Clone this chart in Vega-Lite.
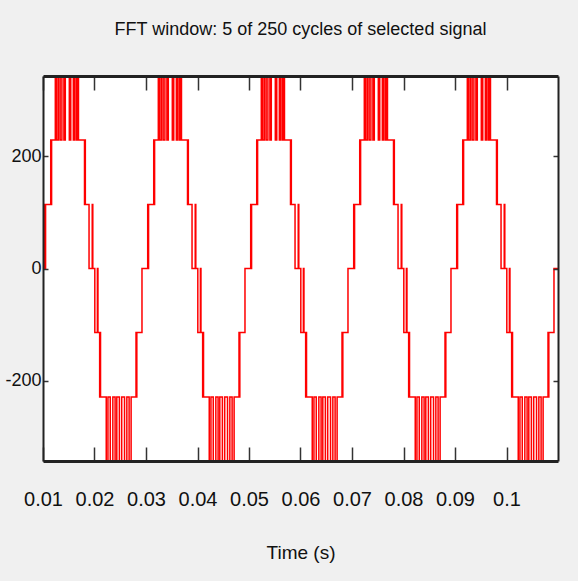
{
"$schema": "https://vega.github.io/schema/vega-lite/v6.json",
"width": 515, "height": 385,
"autosize": {"type": "none"},
"padding": {"left": 43, "top": 76, "right": 20, "bottom": 120},
"background": "#f0f0f0",
"config": {"view": {"fill": "white", "stroke": null}, "font": "Liberation Sans"},
"title": {"text": "FFT window: 5 of 250 cycles of selected signal", "fontSize": 18, "fontWeight": "normal", "color": "#111", "offset": 36, "anchor": "middle", "font": "Liberation Sans"},
"data": {"values": [
{"t":0.01,"v":0},
{"t":0.01033,"v":114},{"t":0.01044,"v":0},{"t":0.0105,"v":114},{"t":0.0115,"v":229},{"t":0.01161,"v":114},{"t":0.01167,"v":229},
{"t":0.01239,"v":343},{"t":0.01267,"v":229},{"t":0.013,"v":343},{"t":0.01333,"v":229},{"t":0.01367,"v":343},{"t":0.01406,"v":229},{"t":0.01433,"v":343},{"t":0.01511,"v":229},{"t":0.01539,"v":343},{"t":0.01589,"v":229},{"t":0.01617,"v":343},{"t":0.0165,"v":229},{"t":0.01667,"v":343},{"t":0.01689,"v":229},
{"t":0.01806,"v":114},{"t":0.01817,"v":229},{"t":0.01822,"v":114},{"t":0.01894,"v":0},{"t":0.01956,"v":114},{"t":0.01967,"v":0},
{"t":0.02006,"v":-114},{"t":0.02056,"v":0},{"t":0.02067,"v":-114},{"t":0.021,"v":-229},{"t":0.02111,"v":-114},{"t":0.02117,"v":-229},
{"t":0.02228,"v":-343},{"t":0.02261,"v":-229},{"t":0.02306,"v":-343},{"t":0.02356,"v":-229},{"t":0.024,"v":-343},{"t":0.02433,"v":-229},{"t":0.02483,"v":-343},{"t":0.02528,"v":-229},{"t":0.02583,"v":-343},{"t":0.02628,"v":-229},{"t":0.02672,"v":-343},{"t":0.02711,"v":-229},
{"t":0.02806,"v":-114},{"t":0.02817,"v":-229},{"t":0.02822,"v":-114},{"t":0.02922,"v":0},
{"t":0.03033,"v":114},{"t":0.03044,"v":0},{"t":0.0305,"v":114},{"t":0.0315,"v":229},{"t":0.03161,"v":114},{"t":0.03167,"v":229},
{"t":0.03239,"v":343},{"t":0.03267,"v":229},{"t":0.033,"v":343},{"t":0.03333,"v":229},{"t":0.03367,"v":343},{"t":0.03406,"v":229},{"t":0.03433,"v":343},{"t":0.03511,"v":229},{"t":0.03539,"v":343},{"t":0.03589,"v":229},{"t":0.03617,"v":343},{"t":0.0365,"v":229},{"t":0.03667,"v":343},{"t":0.03689,"v":229},
{"t":0.03806,"v":114},{"t":0.03817,"v":229},{"t":0.03822,"v":114},{"t":0.03894,"v":0},{"t":0.03956,"v":114},{"t":0.03967,"v":0},
{"t":0.04006,"v":-114},{"t":0.04056,"v":0},{"t":0.04067,"v":-114},{"t":0.041,"v":-229},{"t":0.04111,"v":-114},{"t":0.04117,"v":-229},
{"t":0.04228,"v":-343},{"t":0.04261,"v":-229},{"t":0.04306,"v":-343},{"t":0.04356,"v":-229},{"t":0.044,"v":-343},{"t":0.04433,"v":-229},{"t":0.04483,"v":-343},{"t":0.04528,"v":-229},{"t":0.04583,"v":-343},{"t":0.04628,"v":-229},{"t":0.04672,"v":-343},{"t":0.04711,"v":-229},
{"t":0.04806,"v":-114},{"t":0.04817,"v":-229},{"t":0.04822,"v":-114},{"t":0.04922,"v":0},
{"t":0.05033,"v":114},{"t":0.05044,"v":0},{"t":0.0505,"v":114},{"t":0.0515,"v":229},{"t":0.05161,"v":114},{"t":0.05167,"v":229},
{"t":0.05239,"v":343},{"t":0.05267,"v":229},{"t":0.053,"v":343},{"t":0.05333,"v":229},{"t":0.05367,"v":343},{"t":0.05406,"v":229},{"t":0.05433,"v":343},{"t":0.05511,"v":229},{"t":0.05539,"v":343},{"t":0.05589,"v":229},{"t":0.05617,"v":343},{"t":0.0565,"v":229},{"t":0.05667,"v":343},{"t":0.05689,"v":229},
{"t":0.05806,"v":114},{"t":0.05817,"v":229},{"t":0.05822,"v":114},{"t":0.05894,"v":0},{"t":0.05956,"v":114},{"t":0.05967,"v":0},
{"t":0.06006,"v":-114},{"t":0.06056,"v":0},{"t":0.06067,"v":-114},{"t":0.061,"v":-229},{"t":0.06111,"v":-114},{"t":0.06117,"v":-229},
{"t":0.06228,"v":-343},{"t":0.06261,"v":-229},{"t":0.06306,"v":-343},{"t":0.06356,"v":-229},{"t":0.064,"v":-343},{"t":0.06433,"v":-229},{"t":0.06483,"v":-343},{"t":0.06528,"v":-229},{"t":0.06583,"v":-343},{"t":0.06628,"v":-229},{"t":0.06672,"v":-343},{"t":0.06711,"v":-229},
{"t":0.06806,"v":-114},{"t":0.06817,"v":-229},{"t":0.06822,"v":-114},{"t":0.06922,"v":0},
{"t":0.07033,"v":114},{"t":0.07044,"v":0},{"t":0.0705,"v":114},{"t":0.0715,"v":229},{"t":0.07161,"v":114},{"t":0.07167,"v":229},
{"t":0.07239,"v":343},{"t":0.07267,"v":229},{"t":0.073,"v":343},{"t":0.07333,"v":229},{"t":0.07367,"v":343},{"t":0.07406,"v":229},{"t":0.07433,"v":343},{"t":0.07511,"v":229},{"t":0.07539,"v":343},{"t":0.07589,"v":229},{"t":0.07617,"v":343},{"t":0.0765,"v":229},{"t":0.07667,"v":343},{"t":0.07689,"v":229},
{"t":0.07806,"v":114},{"t":0.07817,"v":229},{"t":0.07822,"v":114},{"t":0.07894,"v":0},{"t":0.07956,"v":114},{"t":0.07967,"v":0},
{"t":0.08006,"v":-114},{"t":0.08056,"v":0},{"t":0.08067,"v":-114},{"t":0.081,"v":-229},{"t":0.08111,"v":-114},{"t":0.08117,"v":-229},
{"t":0.08228,"v":-343},{"t":0.08261,"v":-229},{"t":0.08306,"v":-343},{"t":0.08356,"v":-229},{"t":0.084,"v":-343},{"t":0.08433,"v":-229},{"t":0.08483,"v":-343},{"t":0.08528,"v":-229},{"t":0.08583,"v":-343},{"t":0.08628,"v":-229},{"t":0.08672,"v":-343},{"t":0.08711,"v":-229},
{"t":0.08806,"v":-114},{"t":0.08817,"v":-229},{"t":0.08822,"v":-114},{"t":0.08922,"v":0},
{"t":0.09033,"v":114},{"t":0.09044,"v":0},{"t":0.0905,"v":114},{"t":0.0915,"v":229},{"t":0.09161,"v":114},{"t":0.09167,"v":229},
{"t":0.09239,"v":343},{"t":0.09267,"v":229},{"t":0.093,"v":343},{"t":0.09333,"v":229},{"t":0.09367,"v":343},{"t":0.09406,"v":229},{"t":0.09433,"v":343},{"t":0.09511,"v":229},{"t":0.09539,"v":343},{"t":0.09589,"v":229},{"t":0.09617,"v":343},{"t":0.0965,"v":229},{"t":0.09667,"v":343},{"t":0.09689,"v":229},
{"t":0.09806,"v":114},{"t":0.09817,"v":229},{"t":0.09822,"v":114},{"t":0.09894,"v":0},{"t":0.09956,"v":114},{"t":0.09967,"v":0},
{"t":0.10006,"v":-114},{"t":0.10056,"v":0},{"t":0.10067,"v":-114},{"t":0.101,"v":-229},{"t":0.10111,"v":-114},{"t":0.10117,"v":-229},
{"t":0.10228,"v":-343},{"t":0.10261,"v":-229},{"t":0.10306,"v":-343},{"t":0.10356,"v":-229},{"t":0.104,"v":-343},{"t":0.10433,"v":-229},{"t":0.10483,"v":-343},{"t":0.10528,"v":-229},{"t":0.10583,"v":-343},{"t":0.10628,"v":-229},{"t":0.10672,"v":-343},{"t":0.10711,"v":-229},
{"t":0.10806,"v":-114},{"t":0.10817,"v":-229},{"t":0.10822,"v":-114},{"t":0.10922,"v":0},
{"t":0.11,"v":0}
]},
"layer": [
{"mark": {"type": "line", "interpolate": "step-after", "color": "#ff0000", "strokeWidth": 1.5, "clip": true},
 "encoding": {
  "x": {"field": "t", "type": "quantitative", "scale": {"domain": [0.01, 0.11], "nice": false, "zero": false},
        "axis": {"orient": "bottom", "values": [0.01,0.02,0.03,0.04,0.05,0.06,0.07,0.08,0.09,0.1], "format": "~g", "grid": false, "zindex": 1,
                 "tickSize": -14, "tickWidth": 1.5, "tickColor": "#333", "domainColor": "#222", "domainWidth": 3,
                 "labelFontSize": 20, "labelPadding": 42, "labelColor": "#111", "labelFlush": false, "labelOverlap": false,
                 "title": "Time (s)", "titleFontSize": 19, "titleFontWeight": "normal", "titleColor": "#111", "titlePadding": 34}},
  "y": {"field": "v", "type": "quantitative", "scale": {"domain": [-343, 343], "nice": false, "zero": false},
        "axis": {"orient": "left", "values": [-200, 0, 200], "labelExpr": "'' + datum.value", "grid": false, "zindex": 1,
                 "tickSize": -5, "tickWidth": 1.5, "tickColor": "#333", "domainColor": "#222", "domainWidth": 2,
                 "labelFontSize": 18, "labelPadding": 7, "labelColor": "#111", "labelFlush": false, "labelOverlap": false, "title": null}}
 }},
{"mark": {"type": "line", "opacity": 0},
 "encoding": {
  "x": {"field": "t", "type": "quantitative",
        "axis": {"orient": "top", "values": [0.01,0.02,0.03,0.04,0.05,0.06,0.07,0.08,0.09,0.1], "labels": false, "grid": false, "zindex": 1,
                 "tickSize": -14, "tickWidth": 1.5, "tickColor": "#333", "domainColor": "#222", "domainWidth": 3, "title": null}},
  "y": {"field": "v", "type": "quantitative",
        "axis": {"orient": "right", "values": [-200, 0, 200], "labels": false, "grid": false, "zindex": 1,
                 "tickSize": -5, "tickWidth": 1.5, "tickColor": "#333", "domainColor": "#222", "domainWidth": 2, "title": null}}
 }}
],
"resolve": {"axis": {"x": "independent", "y": "independent"}}
}
